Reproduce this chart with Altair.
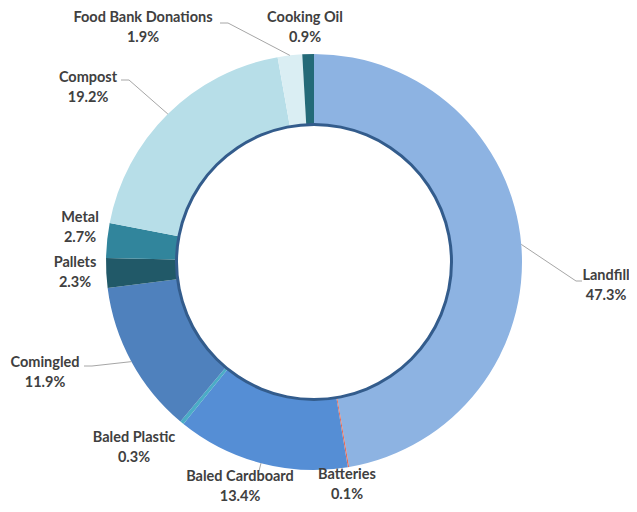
import math
import altair as alt
import pandas as pd

# ---- data ----
categories = ["Landfill", "Batteries", "Baled Cardboard", "Baled Plastic", "Comingled",
              "Pallets", "Metal", "Compost", "Food Bank Donations", "Cooking Oil"]
values = [47.3, 0.1, 13.4, 0.3, 11.9, 2.3, 2.7, 19.2, 1.9, 0.9]
colors = ["#8DB3E2", "#E46C5A", "#558ED5", "#4BACC6", "#4F81BD",
          "#215968", "#31859C", "#B7DEE8", "#DAEEF3", "#246A78"]

# ---- layout (plot coords, page margin removed) ----
W, H = 621, 496
CX, CY = 306, 254
R_OUT, R_IN = 208, 138
label_pos = {
    "Landfill": (598, 278), "Batteries": (339, 477), "Baled Cardboard": (232, 479),
    "Baled Plastic": (126, 440), "Comingled": (37, 365), "Pallets": (67, 265),
    "Metal": (72, 220), "Compost": (80, 80), "Food Bank Donations": (135, 20),
    "Cooking Oil": (297, 20),
}
leaders = {
    "Landfill": [(568, 273), (574, 273)],
    "Baled Cardboard": [(251, 463)],
    "Comingled": [(84, 358), (76, 358)],
    "Compost": [(121, 72), (113, 72)],
    "Food Bank Donations": [(220, 15), (212, 15)],
}

total = sum(values)
rows, cum = [], 0.0
for i, (c, v) in enumerate(zip(categories, values)):
    mid = (cum + v / 2) / total * 2 * math.pi
    cum += v
    ox = CX + R_OUT * math.sin(mid)
    oy = CY - R_OUT * math.cos(mid)
    lx, ly = label_pos[c]
    rows.append(dict(cat=c, value=v, idx=i, ox=ox, oy=oy, lx=lx, ly=ly,
                     label=f"{c}\n{v:.1f}%"))
df = pd.DataFrame(rows)

line_rows = []
for c, pts in leaders.items():
    r = df[df.cat == c].iloc[0]
    seq = [(r.ox, r.oy)] + pts
    for k, (x, y) in enumerate(seq):
        line_rows.append(dict(cat=c, k=k, x=x, y=y))
ldf = pd.DataFrame(line_rows)

arcs = alt.Chart(df).mark_arc(outerRadius=R_OUT, innerRadius=R_IN).encode(
    theta=alt.Theta("value:Q", stack=True),
    order=alt.Order("idx:Q"),
    color=alt.Color("cat:N", scale=alt.Scale(domain=categories, range=colors), legend=None),
    x=alt.value(CX), y=alt.value(CY),
)

ring = alt.Chart(pd.DataFrame({"v": [1]})).mark_arc(
    outerRadius=R_IN + 1, innerRadius=R_IN - 2, color="#335C8C",
    theta=0, theta2=2 * math.pi,
).encode(x=alt.value(CX), y=alt.value(CY))

lines = alt.Chart(ldf).mark_line(color="#A6A6A6", strokeWidth=1).encode(
    x=alt.X("x:Q", scale=None, axis=None),
    y=alt.Y("y:Q", scale=None, axis=None),
    detail="cat:N",
    order="k:Q",
)

texts = alt.Chart(df).mark_text(
    font="Lato", fontSize=14.5, fontWeight="bold", color="#404040",
    lineBreak="\n", lineHeight=20, align="center", baseline="middle", dy=-10,
).encode(
    x=alt.X("lx:Q", scale=None, axis=None),
    y=alt.Y("ly:Q", scale=None, axis=None),
    text="label:N",
)

chart = alt.layer(arcs, ring, lines, texts).properties(
    width=W, height=H, autosize=alt.AutoSizeParams(type="none"), padding=0
).configure_view(stroke=None)

chart.save("out.html", embed_options={"renderer": "svg", "actions": False})
